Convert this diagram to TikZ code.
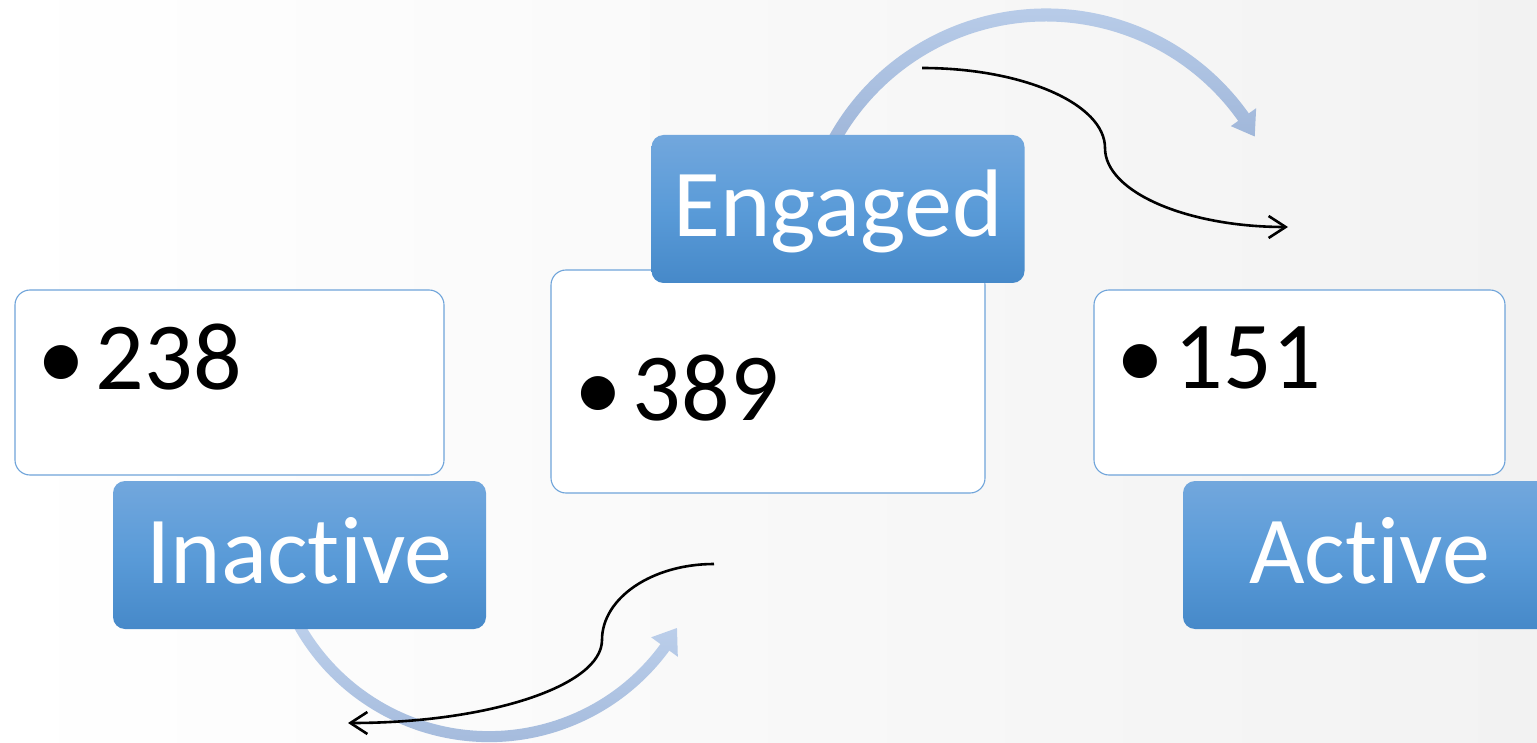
\documentclass[tikz,border=0pt]{standalone}
\usepackage{fontspec}
\setmainfont{Carlito}[Ligatures=NoCommon]
\usetikzlibrary{arrows.meta}
\definecolor{bluetop}{HTML}{72A7DD}
\definecolor{bluemid}{HTML}{5A9BD8}
\definecolor{bluebot}{HTML}{4689C9}
\definecolor{boxline}{HTML}{6FA4DA}
\definecolor{arclight}{HTML}{BED1EC}
\definecolor{arcdark}{HTML}{9FB6D9}
\definecolor{bgright}{HTML}{F2F2F2}
\begin{document}
\begin{tikzpicture}[x=1pt,y=1pt,
  label box/.style={rectangle, rounded corners=12pt, minimum width=373pt, minimum height=148pt,
    inner sep=0pt, top color=bluetop, bottom color=bluebot, middle color=bluemid, text=white,
    font=\fontsize{96}{100}\selectfont, text height=70pt, text depth=14pt},
  value box/.style={rectangle, rounded corners=15pt, fill=white, draw=boxline, line width=1.1pt, inner sep=0pt},
  value text/.style={anchor=base west, inner sep=0pt, font=\fontsize{96}{100}\selectfont},
  flow/.style={line width=2.6pt, -{Straight Barb[length=17pt,width=22pt]}},
  band/.style={top color=arclight, bottom color=arcdark},
]
\useasboundingbox (0,0) rectangle (1537,-743);
\shade[left color=white, right color=bgright] (0,0) rectangle (1537,-743);

% thick light-blue arcs
\shade[band] ([shift={(1046,-257)}]152:248.5) arc[start angle=152,end angle=35.3,radius=248.5]
  -- ([shift={(1046,-257)}]35.3:257.5) -- ([shift={(1046,-257)}]30:241)
  -- ([shift={(1046,-257)}]35.3:226.5) -- ([shift={(1046,-257)}]35.3:235.5)
  arc[start angle=35.3,end angle=152,radius=235.5] -- cycle;
\shade[band] ([shift={(489,-518.6)}]206:223.5) arc[start angle=206,end angle=323.8,radius=223.5]
  -- ([shift={(489,-518.6)}]323.8:234) -- ([shift={(489,-518.6)}]329.8:217.5)
  -- ([shift={(489,-518.6)}]323.8:201) -- ([shift={(489,-518.6)}]323.8:212.5)
  arc[start angle=323.8,end angle=206,radius=212.5] -- cycle;

% value boxes
\node[value box, minimum width=429pt, minimum height=185pt] (vleft) at (229.5,-382.5) {};
\node[value box, minimum width=434pt, minimum height=223pt] (vmid) at (768,-381.5) {};
\node[value box, minimum width=411pt, minimum height=185pt] (vright) at (1299.5,-382.5) {};
\node[value text] (t238) at (37,-389) {•\kern 11pt 238};
\node[value text] (t389) at (574,-420) {•\kern 11pt 389};
\node[value text] (t151) at (1116,-388) {•\kern 11pt 151};

% label boxes
\node[label box] (inactive) at (299.5,-555) {Inactive};
\node[label box] (engaged) at (838,-209) {Engaged};
\node[label box] (active) at (1369.5,-555) {Active};

% black curved connectors
\coordinate (c1s) at (922,-68);
\coordinate (c1m) at (1105,-148);
\coordinate (c1e) at (1288,-227);
\draw[flow] (c1s) .. controls (1023,-68) and (1105,-104) .. (c1m)
  .. controls (1105,-192) and (1187,-227) .. (c1e);
\coordinate (c2s) at (714,-564);
\coordinate (c2m) at (602,-640);
\coordinate (c2e) at (348,-723);
\draw[flow] (c2s) .. controls (652,-564) and (602,-598) .. (c2m)
  .. controls (602,-686) and (488,-723) .. (c2e);
\end{tikzpicture}
\end{document}
